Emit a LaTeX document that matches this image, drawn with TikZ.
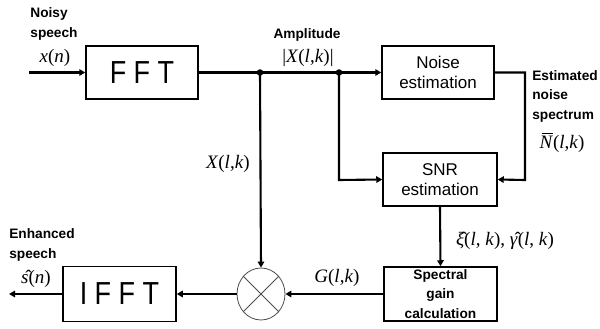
\documentclass[tikz,border=0pt]{standalone}
\usepackage{fontspec}
\setmainfont{Liberation Serif}
\setsansfont{Liberation Sans}
\usetikzlibrary{arrows.meta,shapes.geometric}
\newcommand{\vstretch}[1]{\scalebox{1}[1.18]{#1}}
\begin{document}
\begin{tikzpicture}[x=1pt,y=-1pt,
  blk/.style={draw,line width=1.5pt,rectangle,inner sep=0pt,align=center},
  big/.style={font=\sffamily\fontsize{27}{30}\selectfont},
  med/.style={font=\sffamily\fontsize{17}{20}\selectfont},
  lbl/.style={font=\sffamily\bfseries\fontsize{13.7}{19.5}\selectfont,align=left,inner sep=0pt},
  mth/.style={font=\fontsize{19}{21}\selectfont,inner sep=0pt},
  wire/.style={line width=2.1pt},
  arr/.style={wire,-{Triangle[length=6pt,width=6.5pt]}},
  dot/.style={circle,fill,inner sep=0pt,minimum size=6.5pt}]
\useasboundingbox (0,0) rectangle (600,329);
% blocks
\node[blk,big,minimum width=112pt,minimum height=53pt] (fft) at (142,72.5) {\vstretch{F F T}};
\node[blk,med,minimum width=112pt,minimum height=53pt] (noise) at (438,72.5) {Noise\\estimation};
\node[blk,med,minimum width=114pt,minimum height=53pt] (snr) at (440,179.5) {SNR\\estimation};
\node[blk,minimum width=113pt,minimum height=54pt,font=\sffamily\bfseries\fontsize{13.7}{19.5}\selectfont] (gain) at (440.5,294) {Spectral\\gain\\calculation};
\node[blk,big,minimum width=113pt,minimum height=55pt] (ifft) at (119.5,294) {\vstretch{I F F T}};
\node[draw=black!70,line width=0.8pt,ellipse,minimum width=48pt,minimum height=52pt,inner sep=0pt] (mult) at (261,294) {};
\draw[black!70,line width=0.8pt] (mult.135) -- (mult.-45) (mult.45) -- (mult.-135);
% coordinates
\coordinate (in) at (29,72.5);
\coordinate (out) at (9,294);
\node[dot] (j1) at (260,72.5) {};
\node[dot] (j2) at (339,72.5) {};
\coordinate (c1) at (339,180);
\coordinate (c2) at (525,72.5);
\coordinate (c3) at (525,180);
% connectors
\draw[arr] (in) -- (fft.west);
\draw[wire] (fft.east) -- (j1.center) -- (j2.center);
\draw[arr] (j2.center) -- (noise.west);
\draw[arr] (j1.center) -- (mult.north);
\draw[arr] (j2.center) -- (c1) -- (snr.west);
\draw[arr] (noise.east) -- (c2) -- (c3) -- (snr.east);
\draw[arr] (snr.south) -- (gain.north);
\draw[arr] (gain.west) -- (mult.east);
\draw[arr] (mult.west) -- (ifft.east);
\draw[arr] (ifft.west) -- (out);
% labels
\node[lbl] (l1) at (54,24) {Noisy\\speech};
\node[mth] (l2) at (55,58) {\textit{x}(\textit{n})};
\node[lbl] (l3) at (307,35) {Amplitude};
\node[mth] (l4) at (308,58) {|\textit{X}(\textit{l},\textit{k})|};
\node[lbl] (l5) at (565,96) {Estimated\\noise\\spectrum};
\node[mth] (l6) at (562,143) {\makebox[0pt][l]{\hspace{2pt}\rule[14.5pt]{11.5pt}{0.8pt}}\textit{N}(\textit{l},\textit{k})};
\node[mth] (l7) at (228,164) {\textit{X}(\textit{l},\textit{k})};
\node[lbl] (l8) at (42,245) {Enhanced\\speech};
\node[mth] (l9) at (36,279) {\^{\textit{s}}(\textit{n})};
\node[mth] (l10) at (337,278) {\textit{G}(\textit{l},\textit{k})};
\node[mth] (l11) at (505,241) {\^{\textit{ξ}}(\textit{l}, \textit{k}), \^{\textit{γ}}(\textit{l}, \textit{k})};
\end{tikzpicture}
\end{document}
